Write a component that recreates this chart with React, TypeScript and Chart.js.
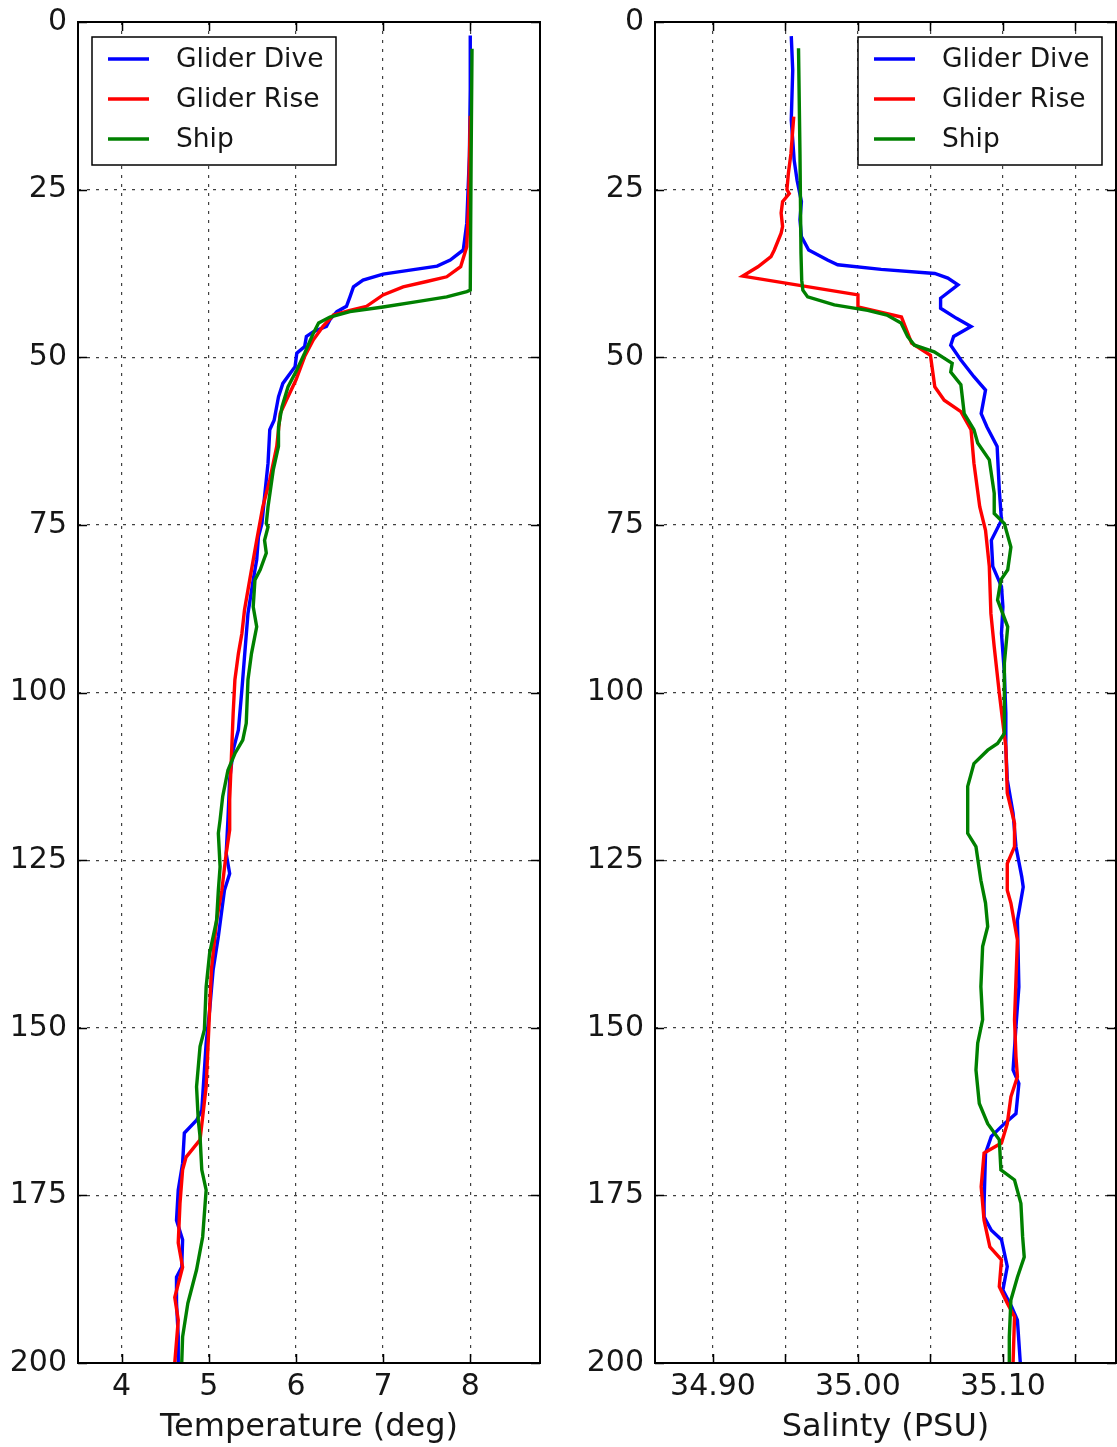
import { useEffect, useRef } from 'react';
import { Chart, registerables } from 'chart.js';

Chart.register(...registerables);

// ---------- DATA ----------
const seriesLabels = ['Glider Dive', 'Glider Rise', 'Ship'];
const seriesColors = ['#0000ff', '#ff0000', '#008000'];

const depthTicks = [0, 25, 50, 75, 100, 125, 150, 175, 200];

// Temperature (deg) vs depth
const diveTempDepth = [2, 10, 20, 30, 34, 35.5, 36.4, 37, 37.6, 38.5, 39.5, 41, 42.4, 43.2, 44.4, 45.4, 46.2, 46.9, 48.4, 49.4, 51.4, 53.9, 55.9, 59.4, 60.8, 65.8, 70.8, 74.8, 76.8, 80.2, 83.2, 88.2, 94.7, 99.6, 105.6, 108.6, 113, 119, 124, 127, 129.5, 136.4, 141.4, 147.4, 152.3, 156.3, 162.3, 163.8, 165.7, 170.2, 174.2, 178.7, 181.6, 185.7, 187.2, 191, 196, 200];
const diveTemp = [8.0, 8.0, 7.99, 7.96, 7.92, 7.77, 7.62, 7.31, 7.0, 6.77, 6.66, 6.62, 6.58, 6.47, 6.39, 6.35, 6.2, 6.12, 6.1, 6.01, 5.99, 5.85, 5.8, 5.75, 5.7, 5.68, 5.64, 5.61, 5.57, 5.55, 5.51, 5.45, 5.41, 5.38, 5.34, 5.28, 5.24, 5.22, 5.2, 5.24, 5.18, 5.11, 5.05, 5.01, 4.97, 4.95, 4.92, 4.86, 4.72, 4.7, 4.65, 4.63, 4.7, 4.69, 4.63, 4.63, 4.65, 4.65];

const riseTempDepth = [14, 27.5, 33.5, 36.5, 38, 38.7, 39.5, 40.7, 42.4, 43, 43.7, 45.4, 47.4, 49.9, 53.4, 56.4, 58.4, 63.3, 68.3, 72.3, 77.3, 83.2, 87.7, 91.2, 94.2, 98.1, 103.1, 109.6, 116, 120.5, 124, 129.5, 134, 141.4, 150.3, 158.8, 166.7, 169.3, 171.2, 176.2, 182.1, 185.7, 190.2, 193.6, 200];
const riseTemp = [8.0, 7.98, 7.96, 7.89, 7.73, 7.5, 7.23, 7.0, 6.81, 6.62, 6.43, 6.31, 6.2, 6.1, 6.0, 5.89, 5.82, 5.78, 5.7, 5.62, 5.55, 5.47, 5.41, 5.38, 5.34, 5.3, 5.28, 5.26, 5.24, 5.24, 5.2, 5.15, 5.09, 5.03, 5.0, 4.97, 4.9, 4.74, 4.7, 4.67, 4.65, 4.7, 4.61, 4.65, 4.61];

const shipTempDepth = [4, 20, 40, 40.2, 41, 41.7, 42.5, 43.2, 44, 44.9, 46.4, 49.4, 51.9, 54.4, 57.4, 60.4, 63.3, 66.8, 72.3, 74.8, 75.3, 77.3, 79.2, 81.7, 83.2, 87.2, 90.2, 94.2, 98.1, 104.6, 107.1, 109.1, 111.6, 115.5, 119, 121, 126, 129.5, 134, 138.9, 143.9, 150.3, 152.8, 158.8, 163.8, 166.2, 171.2, 174.2, 181.2, 186.1, 191.1, 196.1, 200];
const shipTemp = [8.02, 8.01, 8.0, 7.96, 7.73, 7.39, 7.0, 6.62, 6.39, 6.26, 6.2, 6.1, 6.01, 5.91, 5.84, 5.8, 5.8, 5.74, 5.68, 5.66, 5.68, 5.64, 5.66, 5.59, 5.53, 5.51, 5.55, 5.49, 5.45, 5.43, 5.39, 5.3, 5.22, 5.16, 5.13, 5.11, 5.13, 5.11, 5.09, 5.01, 4.97, 4.95, 4.9, 4.86, 4.88, 4.9, 4.92, 4.97, 4.93, 4.86, 4.76, 4.7, 4.69];

// Salinity (PSU) vs depth
const diveSalDepth = [2.1, 7.2, 14.6, 20.6, 23.6, 26.8, 29.5, 32, 34, 35.5, 36.2, 36.9, 37.5, 38.2, 39.2, 41.2, 42.7, 44.2, 45.4, 46.9, 48.2, 50.4, 52.9, 54.9, 58.4, 60.4, 63.3, 69.8, 74.3, 77.3, 81.2, 84.2, 87.2, 91.2, 97.1, 103.1, 108.1, 113, 118, 123, 127.5, 129, 134, 143.9, 149.8, 156.3, 158.3, 162.8, 164.3, 166.2, 168.7, 176.2, 178.2, 180.2, 181.6, 185.6, 189.1, 191.6, 193.6, 200];
const diveSal = [34.954, 34.955, 34.954, 34.956, 34.958, 34.961, 34.96, 34.961, 34.966, 34.979, 34.986, 35.016, 35.053, 35.062, 35.069, 35.057, 35.057, 35.068, 35.078, 35.066, 35.064, 35.071, 35.08, 35.088, 35.085, 35.089, 35.096, 35.0975, 35.099, 35.092, 35.093, 35.099, 35.1, 35.099, 35.101, 35.102, 35.102, 35.103, 35.107, 35.109, 35.113, 35.114, 35.11, 35.111, 35.109, 35.107, 35.111, 35.109, 35.101, 35.092, 35.088, 35.087, 35.087, 35.092, 35.099, 35.103, 35.1, 35.106, 35.11, 35.112];

const riseSalDepth = [14.1, 19.6, 22.6, 25, 25.6, 26.8, 28.5, 30.5, 31.5, 34, 35, 36.5, 37.9, 40.7, 42.5, 44, 47.9, 49.7, 54.4, 56.4, 58.1, 60.8, 65.8, 72.3, 75.8, 81.2, 88.2, 93.2, 100.1, 104.6, 108.1, 115, 119.5, 123, 125.5, 129.5, 131.4, 136.9, 142.9, 148.8, 154.3, 157.3, 160.3, 164.3, 167.2, 168.7, 173.7, 178.7, 182.7, 184.6, 188.6, 191.1, 193.1, 200];
const riseSal = [34.9557, 34.9538, 34.952, 34.951, 34.9526, 34.948, 34.947, 34.948, 34.947, 34.9423, 34.94, 34.931, 34.9205, 35.0, 35.0, 35.03, 35.037, 35.05, 35.053, 35.0595, 35.071, 35.078, 35.08, 35.084, 35.088, 35.0906, 35.0917, 35.094, 35.0975, 35.1, 35.102, 35.103, 35.108, 35.108, 35.103, 35.103, 35.1055, 35.11, 35.109, 35.108, 35.109, 35.11, 35.1055, 35.103, 35.099, 35.087, 35.085, 35.087, 35.091, 35.099, 35.0975, 35.103, 35.108, 35.107];

const shipSalDepth = [3.9, 19.6, 34.5, 38.5, 40, 41, 42.2, 43, 43.7, 44.9, 46.9, 48.2, 49.2, 50.9, 52.2, 54.1, 58.4, 60.8, 62.8, 65.3, 70.3, 73.3, 74.8, 78.3, 81.7, 83.2, 86.2, 90.2, 95.6, 102.1, 106.1, 107.6, 108.6, 110.6, 114, 121, 123, 128, 131.4, 134.9, 137.9, 143.9, 148.8, 152.3, 156.3, 161.3, 164.3, 166.7, 171.2, 172.7, 176.2, 181.2, 184.2, 187.2, 190.6, 196.1, 200];
const shipSal = [34.959, 34.96, 34.9607, 34.9612, 34.962, 34.9653, 34.9837, 35.0067, 35.02, 35.0297, 35.0343, 35.039, 35.0526, 35.065, 35.064, 35.071, 35.0733, 35.08, 35.0826, 35.0906, 35.094, 35.094, 35.101, 35.1055, 35.1033, 35.0986, 35.0963, 35.1033, 35.101, 35.101, 35.101, 35.0963, 35.0895, 35.08, 35.0757, 35.0757, 35.0814, 35.0848, 35.088, 35.0895, 35.086, 35.0848, 35.086, 35.0826, 35.0814, 35.0837, 35.0895, 35.0975, 35.0986, 35.108, 35.1124, 35.1136, 35.1147, 35.11, 35.1055, 35.1044, 35.1044];

const tempTicks = [4, 5, 6, 7, 8];
const salTickLabels = ['34.90', '35.00', '35.10'];

// ---------- STYLE ----------
const FONT = "'DejaVu Sans', 'Liberation Sans', sans-serif";
const TEXT = '#161616';
const CANVAS_H = 1447;

const pts = (xs: number[], ys: number[]) => xs.map((x, i) => ({ x, y: ys[i] }));

const makeDatasets = (series: { xs: number[]; ys: number[] }[]) =>
  series.map((s, i) => ({
    label: seriesLabels[i],
    data: pts(s.xs, s.ys),
    showLine: true,
    borderColor: seriesColors[i],
    backgroundColor: seriesColors[i],
    borderWidth: 3.4,
    pointRadius: 0,
    tension: 0,
    order: 2 - i,
  }));

const framePlugin = {
  id: 'mplFrame',
  afterDraw(chart: any) {
    const { ctx, chartArea: a, scales } = chart;
    ctx.save();
    ctx.strokeStyle = '#000';
    ctx.lineWidth = 1.5;
    const L = 9;
    ctx.beginPath();
    scales.x.ticks.forEach((t: any) => {
      const px = Math.round(scales.x.getPixelForValue(t.value)) + 0.5;
      ctx.moveTo(px, a.top); ctx.lineTo(px, a.top + L);
      ctx.moveTo(px, a.bottom); ctx.lineTo(px, a.bottom - L);
    });
    scales.y.ticks.forEach((t: any) => {
      const py = Math.round(scales.y.getPixelForValue(t.value)) + 0.5;
      ctx.moveTo(a.left, py); ctx.lineTo(a.left + L, py);
      ctx.moveTo(a.right, py); ctx.lineTo(a.right - L, py);
    });
    ctx.stroke();
    ctx.lineWidth = 2;
    ctx.strokeRect(a.left, a.top, a.right - a.left, a.bottom - a.top);
    ctx.restore();
  },
};

const makeLegendPlugin = (side: 'left' | 'right') => ({
  id: 'boxLegend',
  afterDraw(chart: any) {
    const { ctx, chartArea: a } = chart;
    const w = 244, h = 128, m = 14;
    const bx = side === 'left' ? a.left + m : a.right - m - w;
    const by = a.top + 15;
    ctx.save();
    ctx.fillStyle = '#fff';
    ctx.fillRect(bx, by, w, h);
    ctx.strokeStyle = '#000';
    ctx.lineWidth = 1.5;
    ctx.strokeRect(bx, by, w, h);
    ctx.font = `26.5px ${FONT}`;
    ctx.textBaseline = 'middle';
    ctx.textAlign = 'left';
    seriesLabels.forEach((lab, i) => {
      const y = by + 22 + i * 40;
      ctx.strokeStyle = seriesColors[i];
      ctx.lineWidth = 3.4;
      ctx.beginPath();
      ctx.moveTo(bx + 16, y);
      ctx.lineTo(bx + 57, y);
      ctx.stroke();
      ctx.fillStyle = TEXT;
      ctx.fillText(lab, bx + 84, y + 1);
    });
    ctx.restore();
  },
});

type PanelProps = {
  left: number;
  width: number;
  datasets: any[];
  xMin: number;
  xMax: number;
  xStep: number;
  xTitle: string;
  yAxisWidth: number;
  padRight: number;
  legendSide: 'left' | 'right';
  xLabel: (v: number) => string;
};

function Panel(p: PanelProps) {
  const ref = useRef<HTMLCanvasElement>(null);
  useEffect(() => {
    if (!ref.current) return;
    const tickFont = { family: FONT, size: 30 };
    const chart = new Chart(ref.current, {
      type: 'scatter',
      data: { datasets: p.datasets },
      options: {
        responsive: false,
        animation: false,
        layout: { padding: { top: 22, right: p.padRight, bottom: 0, left: 0 } },
        plugins: { legend: { display: false }, tooltip: { enabled: false } },
        scales: {
          x: {
            type: 'linear',
            position: 'bottom',
            min: p.xMin,
            max: p.xMax,
            afterFit: (s: any) => {
              s.height = 84;
              s.paddingLeft = 0;
              s.paddingRight = 0;
            },
            ticks: {
              stepSize: p.xStep,
              includeBounds: false,
              autoSkip: false,
              maxRotation: 0,
              padding: 6,
              color: TEXT,
              font: tickFont,
              callback: (v: any) => p.xLabel(Number(v)),
            },
            grid: { drawTicks: false, color: 'rgba(0,0,0,0.75)', lineWidth: 1.2 },
            border: { display: false, dash: [3, 6] },
            title: { display: true, text: p.xTitle, color: TEXT, font: { family: FONT, size: 32 }, padding: 0 },
          },
          y: {
            type: 'linear',
            reverse: true,
            min: depthTicks[0],
            max: depthTicks[depthTicks.length - 1],
            afterFit: (s: any) => {
              s.width = p.yAxisWidth;
              s.paddingTop = 0;
              s.paddingBottom = 0;
            },
            afterBuildTicks: (s: any) => { s.ticks = depthTicks.map((v) => ({ value: v })); },
            ticks: { padding: 11, color: TEXT, font: tickFont },
            grid: { drawTicks: false, color: 'rgba(0,0,0,0.75)', lineWidth: 1.2 },
            border: { display: false, dash: [3, 6] },
          },
        },
      } as any,
      plugins: [framePlugin, makeLegendPlugin(p.legendSide)],
    });
    return () => chart.destroy();
  }, []);
  return (
    <canvas
      ref={ref}
      width={p.width}
      height={CANVAS_H}
      style={{ position: 'absolute', left: p.left, top: 0, width: p.width, height: CANVAS_H }}
    />
  );
}

export default function App() {
  const tempSets = makeDatasets([
    { xs: diveTemp, ys: diveTempDepth },
    { xs: riseTemp, ys: riseTempDepth },
    { xs: shipTemp, ys: shipTempDepth },
  ]);
  const salSets = makeDatasets([
    { xs: diveSal, ys: diveSalDepth },
    { xs: riseSal, ys: riseSalDepth },
    { xs: shipSal, ys: shipSalDepth },
  ]);
  const tempLabel = (v: number) => {
    const hit = tempTicks.find((t) => Math.abs(t - v) < 1e-6);
    return hit === undefined ? '' : String(hit);
  };
  const salLabel = (v: number) => {
    const s = v.toFixed(2);
    return salTickLabels.includes(s) ? s : '';
  };
  return (
    <div style={{ position: 'absolute', left: 0, top: 0, width: 1117, height: CANVAS_H, background: '#fff' }}>
      <Panel left={0} width={560} datasets={tempSets} xMin={3.5} xMax={8.8} xStep={1}
        xTitle="Temperature (deg)" yAxisWidth={78} padRight={20} legendSide="left" xLabel={tempLabel} />
      <Panel left={560} width={557} datasets={salSets} xMin={34.86} xMax={35.178} xStep={0.05}
        xTitle="Salinty (PSU)" yAxisWidth={95} padRight={1} legendSide="right" xLabel={salLabel} />
    </div>
  );
}
